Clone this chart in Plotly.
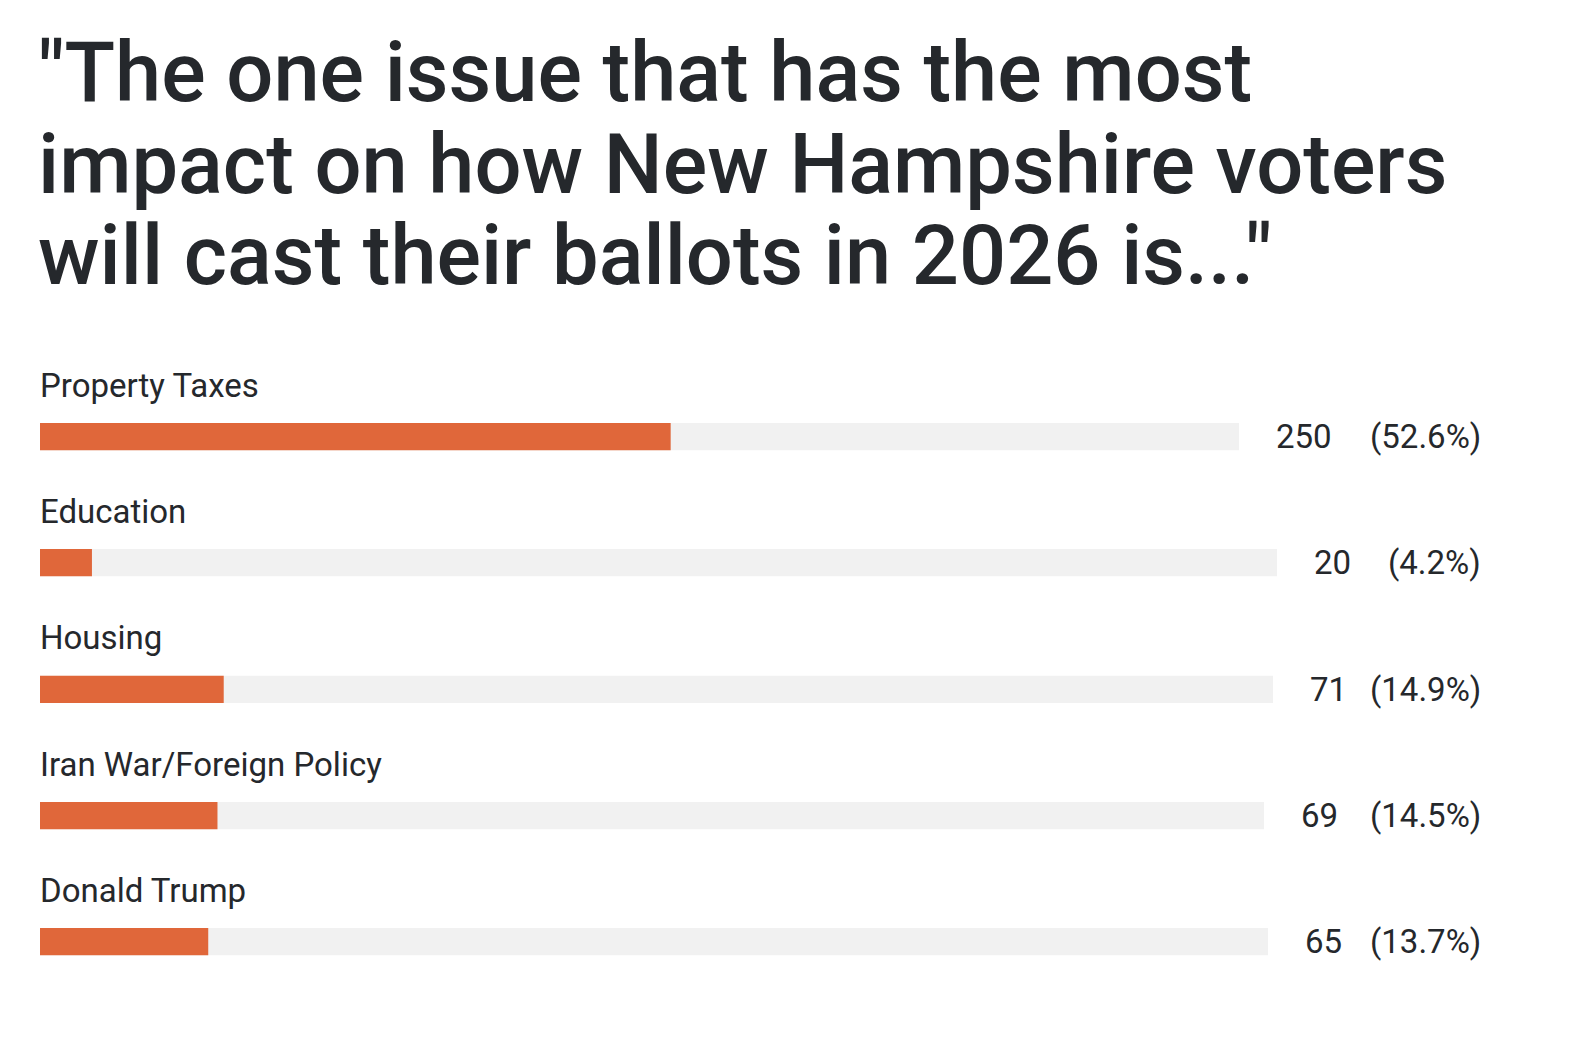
import plotly.graph_objects as go

# ---------------------------------------------------------------------------
# Data
# ---------------------------------------------------------------------------

TITLE_LINES = [
    '"The one issue that has the most',
    "impact on how New Hampshire voters",
    'will cast their ballots in 2026 is..."',
]
issues = ["Property Taxes", "Education", "Housing", "Iran War/Foreign Policy", "Donald Trump"]
votes = [250, 20, 71, 69, 65]
shares = [52.6, 4.2, 14.9, 14.5, 13.7]

# ---------------------------------------------------------------------------
# Layout constants (pixels in the 1582x1058 window)
# ---------------------------------------------------------------------------

OFF = 8                 # default body margin of the page
W, H = 1582 - 2 * OFF, 1058 - 2 * OFF
LEFT = 40
TRACK_END = [1239, 1277, 1273, 1264, 1268]   # track stops short of the count label
BAR_TOP = [423, 549, 675.5, 802, 928]
BAR_H = 27.5
LABEL_GAP = 27          # label baseline sits this far above the bar
COUNT_GAP = 37
PCT_RIGHT = 1481
TITLE_BASELINES = [100, 192, 283]

ORANGE = "#e0673a"
TRACK = "#f1f1f1"
INK = "#25282c"
FONT = "Roboto"
TITLE_SIZE = 83
LABEL_SIZE = 33


def px_x(v):
    return (v - OFF) / W


def px_y(v):
    return 1 - (v - OFF) / H


fig = go.Figure()
layout = {}
annotations = []

for i, (issue, n, pct) in enumerate(zip(issues, votes, shares)):
    k = "" if i == 0 else str(i + 1)
    top, bot = BAR_TOP[i], BAR_TOP[i] + BAR_H

    # grey track, then the orange share on top of it
    fig.add_trace(go.Bar(
        x=[100], y=[0], orientation="h", width=1,
        marker=dict(color=TRACK, line=dict(width=0)),
        xaxis="x" + k, yaxis="y" + k, hoverinfo="skip", showlegend=False,
    ))
    fig.add_trace(go.Bar(
        x=[pct], y=[0], orientation="h", width=1,
        marker=dict(color=ORANGE, line=dict(width=0)),
        xaxis="x" + k, yaxis="y" + k, showlegend=False,
        hovertemplate=f"{issue}: {n} ({pct}%)<extra></extra>",
    ))

    layout["xaxis" + k] = dict(
        domain=[px_x(LEFT), px_x(TRACK_END[i])], range=[0, 100],
        visible=False, fixedrange=True, anchor="y" + k,
    )
    layout["yaxis" + k] = dict(
        domain=[px_y(bot), px_y(top)], range=[-0.5, 0.5],
        visible=False, fixedrange=True, anchor="x" + k,
    )

    mid = px_y(top + BAR_H / 2)
    base = BAR_TOP[i] - LABEL_GAP
    annotations.append(dict(
        text=issue, xref="paper", yref="paper", x=px_x(LEFT), y=px_y(base - 0.33 * LABEL_SIZE),
        xanchor="left", yanchor="middle", showarrow=False, xshift=-2,
        font=dict(family=FONT, size=LABEL_SIZE, color=INK),
    ))
    annotations.append(dict(
        text=str(n), xref="x" + k + " domain", yref="paper", x=1, y=mid,
        xanchor="left", yanchor="middle", showarrow=False, xshift=COUNT_GAP - 2,
        font=dict(family=FONT, size=LABEL_SIZE, color=INK),
    ))
    annotations.append(dict(
        text=f"({pct}%)", xref="paper", yref="paper", x=px_x(PCT_RIGHT), y=mid,
        xanchor="right", yanchor="middle", showarrow=False, xshift=2,
        font=dict(family=FONT, size=LABEL_SIZE, color=INK),
    ))

for line, base in zip(TITLE_LINES, TITLE_BASELINES):
    annotations.append(dict(
        text=line, xref="paper", yref="paper", x=px_x(LEFT), y=px_y(base - 0.33 * TITLE_SIZE),
        xanchor="left", yanchor="middle", showarrow=False, xshift=-4,
        font=dict(family=FONT, size=TITLE_SIZE, color=INK, weight=500),
    ))

fig.update_layout(
    **layout,
    annotations=annotations,
    barmode="overlay",
    width=W, height=H,
    margin=dict(l=0, r=0, t=0, b=0),
    paper_bgcolor="white", plot_bgcolor="white",
    showlegend=False,
)

fig.write_html("out.html")
